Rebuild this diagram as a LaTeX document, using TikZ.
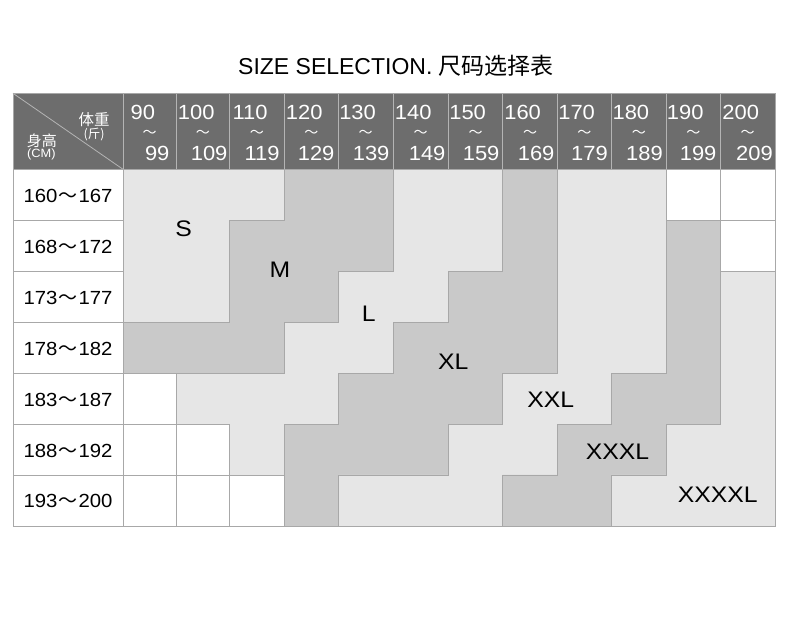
\documentclass[tikz,border=0pt]{standalone}
\usepackage{fontspec}
\setmainfont{Liberation Sans}
\newfontfamily\cjk{Noto Sans CJK SC}
\newfontfamily\wide[FakeStretch=1.07]{Liberation Sans}
\newfontfamily\wider[FakeStretch=1.1]{Liberation Sans}
\usetikzlibrary{calc}
\definecolor{hdr}{HTML}{6D6D6D}
\definecolor{lightc}{HTML}{E6E6E6}
\definecolor{darkc}{HTML}{C9C9C9}
\definecolor{gridc}{HTML}{A8A8A8}
\definecolor{sepc}{HTML}{B4B4B4}
\newcommand{\tl}{\kern1pt{\cjk ～}\kern1pt}
\begin{document}
\begin{tikzpicture}[x=1pt,y=1pt,
  lightreg/.style={fill=lightc,draw=gridc,line width=0.9pt},
  darkreg/.style={fill=darkc,draw=gridc,line width=0.9pt},
  whitecell/.style={fill=white,draw=gridc,line width=0.9pt},
  hnum/.style={text=white,inner sep=0,font=\wide\fontsize{20.5}{20.5}\selectfont},
  htil/.style={text=white,inner sep=0,font=\cjk\fontsize{14}{14}\selectfont},
  rowlab/.style={inner sep=0,anchor=base,font=\wide\fontsize{19}{19}\selectfont},
  sizelab/.style={inner sep=0,font=\wider\fontsize{22.5}{22.5}\selectfont},
  cornertxt/.style={text=white,inner sep=0,anchor=base}]
\useasboundingbox (0,0) rectangle (790,627);
\fill[white] (0,0) rectangle (790,627);
% grid coordinates
\foreach \x [count=\c from 0] in {123,176.3,229.6,284.3,338.3,393,448.3,502.7,557.3,611.3,666.3,720.3,775}{
  \foreach \r in {0,...,7}{
    \coordinate (p\c-\r) at (\x,{457.7-50.95*\r});
  }
}
% title
\node[inner sep=0,anchor=base,font=\fontsize{23}{23}\selectfont] (title) at (396,552.7) {SIZE SELECTION. {\cjk 尺码选择表}};
% header
\coordinate (htl) at (13,533.7);
\coordinate (hbr) at (775,457.7);
\fill[hdr] (htl) rectangle (hbr);
\foreach \c in {0,...,11}{
  \draw[sepc,line width=0.9pt] (p\c-0) -- ++(0,76);
}
\draw[sepc,line width=0.8pt] (htl) -- (p0-0);
\draw[gridc,line width=0.9pt] (htl) rectangle (hbr);
% corner texts
\node[cornertxt,font=\cjk\fontsize{15.5}{15.5}\selectfont] (wt) at (94,501.5) {体重};
\node[cornertxt,font=\cjk\fontsize{12.5}{12.5}\selectfont] (wtu) at (94,488) {(斤)};
\node[cornertxt,font=\cjk\fontsize{15}{15}\selectfont] (ht) at (42,480) {身高};
\node[cornertxt,font=\wide\fontsize{12}{12}\selectfont] (htu) at (41.3,469) {(CM)};
% header numbers
\foreach \t/\b/\lo/\ro [count=\c from 0, evaluate=\c as \d using int(\c+1)] in
  {90/99/7.9/7.2, 100/109/1.9/2.5, 110/119/3.3/5, 120/129/1.9/4.2, 130/139/1.3/3.9,
   140/149/2.2/3.2, 150/159/1.3/3.6, 160/169/1.9/3.2, 170/179/1.3/3.8, 180/189/1.6/3.8,
   190/199/0.9/4.2, 200/209/2.4/2.5}{
  \node[hnum,anchor=base west] (top\c) at ($(p\c-0)+(\lo-0.5,50.2)$) {\t};
  \node[hnum,anchor=base east] (bot\c) at ($(p\d-0)+(-\ro+0.5,8.4)$) {\b};
  \node[htil] (til\c) at ($($(p\c-0)!0.5!(p\d-0)$)+(0,35.8)$) {～};
}
% size regions
\path[lightreg] (p0-0)--(p3-0)--(p3-1)--(p2-1)--(p2-3)--(p0-3)--cycle;
\path[darkreg] (p3-0)--(p5-0)--(p5-2)--(p4-2)--(p4-3)--(p3-3)--(p3-4)--(p0-4)--(p0-3)--(p2-3)--(p2-1)--(p3-1)--cycle;
\path[lightreg] (p5-0)--(p7-0)--(p7-2)--(p6-2)--(p6-3)--(p5-3)--(p5-4)--(p4-4)--(p4-5)--(p3-5)--(p3-6)--(p2-6)--(p2-5)--(p1-5)--(p1-4)--(p3-4)--(p3-3)--(p4-3)--(p4-2)--(p5-2)--cycle;
\path[darkreg] (p7-0)--(p8-0)--(p8-4)--(p7-4)--(p7-5)--(p6-5)--(p6-6)--(p4-6)--(p4-7)--(p3-7)--(p3-5)--(p4-5)--(p4-4)--(p5-4)--(p5-3)--(p6-3)--(p6-2)--(p7-2)--cycle;
\path[lightreg] (p8-0)--(p10-0)--(p10-4)--(p9-4)--(p9-5)--(p8-5)--(p8-6)--(p7-6)--(p7-7)--(p4-7)--(p4-6)--(p6-6)--(p6-5)--(p7-5)--(p7-4)--(p8-4)--cycle;
\path[darkreg] (p10-1)--(p11-1)--(p11-5)--(p10-5)--(p10-6)--(p9-6)--(p9-7)--(p7-7)--(p7-6)--(p8-6)--(p8-5)--(p9-5)--(p9-4)--(p10-4)--cycle;
\path[lightreg] (p11-2)--(p12-2)--(p12-7)--(p9-7)--(p9-6)--(p10-6)--(p10-5)--(p11-5)--cycle;
% white cells
\foreach \a/\b in {p10-0/p11-1, p11-0/p12-1, p11-1/p12-2, p0-4/p1-5, p0-5/p1-6, p1-5/p2-6, p0-6/p1-7, p1-6/p2-7, p2-6/p3-7}{
  \path[whitecell] (\a) rectangle (\b);
}
% left column
\foreach \lab [count=\r from 0, evaluate=\r as \s using int(\r+1)] in
  {160\tl167, 168\tl172, 173\tl177, 178\tl182, 183\tl187, 188\tl192, 193\tl200}{
  \path[whitecell] ($(p0-\r)+(-110,0)$) rectangle (p0-\s);
  \node[rowlab] (row\r) at ($($(p0-\r)!0.5!(p0-\s)$)+(-55,-7.5)$) {\lab};
}
% size labels
\node[sizelab] (S) at (183.7,398.3) {S};
\node[sizelab] (M) at (280,357) {M};
\node[sizelab] (L) at (368.8,313.7) {L};
\node[sizelab] (XL) at (453.3,265.3) {XL};
\node[sizelab] (XXL) at (550.8,227) {XXL};
\node[sizelab] (XXXL) at (617.5,175.7) {XXXL};
\node[sizelab] (XXXXL) at (717.8,132.3) {XXXXL};
\end{tikzpicture}
\end{document}
